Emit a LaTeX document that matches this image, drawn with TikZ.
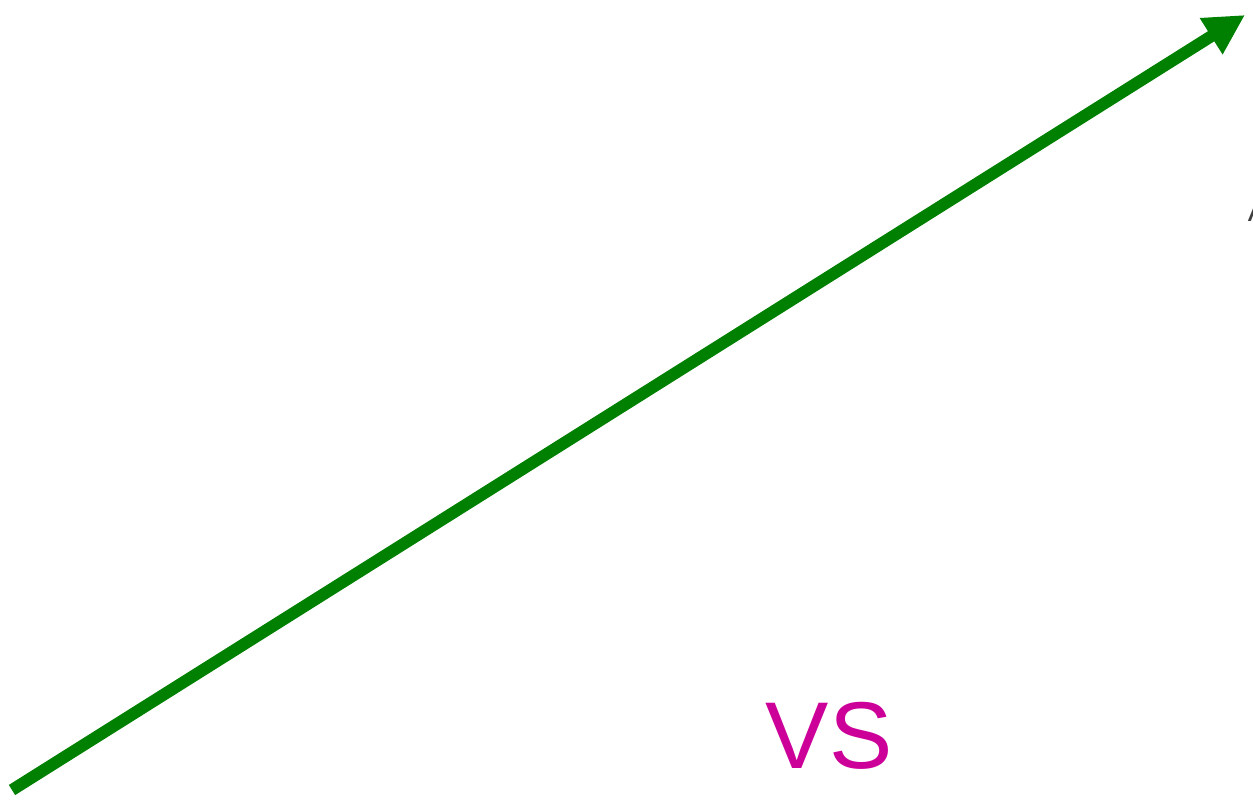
\documentclass[tikz,border=0pt]{standalone}
\usepackage{fontspec}
\setmainfont{Liberation Sans}
\usepackage{xcolor}
\usetikzlibrary{arrows.meta,positioning}
\definecolor{vecgreen}{RGB}{0,128,0}
\definecolor{vsmagenta}{RGB}{204,0,153}
\definecolor{lblgray}{RGB}{64,64,64}

\begin{document}
\begin{tikzpicture}[
    vector/.style={-{Triangle[length=8mm, width=8mm]}, line width=6.8pt, vecgreen},
    vslabel/.style={text=vsmagenta, font=\fontsize{54}{60}\selectfont, inner sep=0pt},
    cutlabel/.style={text=lblgray, font=\fontsize{18}{20}\selectfont, inner sep=0pt, anchor=south west}
  ]
    \useasboundingbox (0,0) rectangle (25.06,16.02);
    \coordinate (start) at (0.24,0.22);
    \coordinate (tip) at (24.9,15.72);
    \node[vslabel] (vs) at (16.58,1.3) {VS};
    \node[cutlabel] (edge) at (24.95,11.58) {A};

    \draw[vector] (start) -- (tip);
  \end{tikzpicture}
\end{document}
